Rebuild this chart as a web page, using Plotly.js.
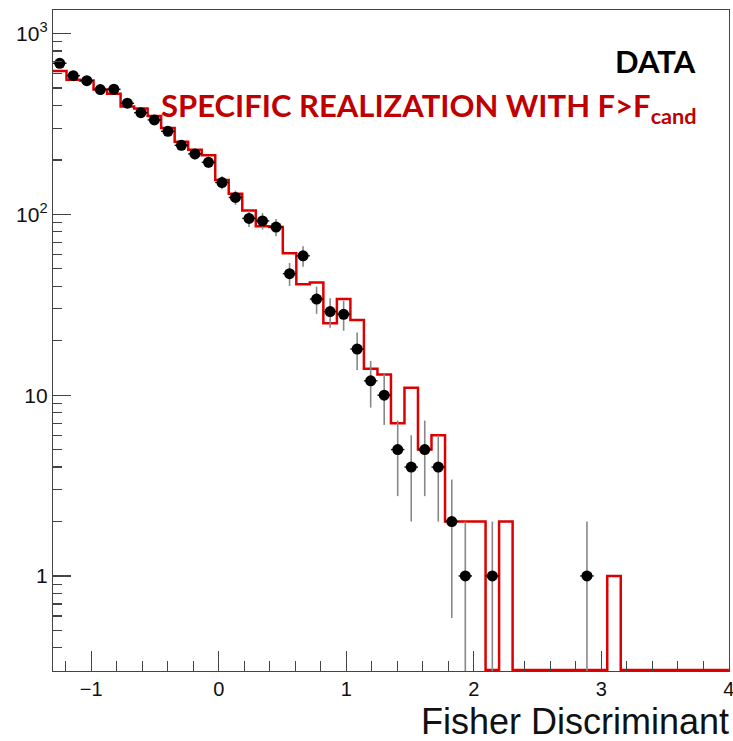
<!DOCTYPE html>
<html>
<head>
<meta charset="utf-8">
<script src="https://cdn.plot.ly/plotly-3.0.1.min.js"></script>
<style>html,body{margin:0;padding:0;background:#fff;}#chart{width:733px;height:741px;}</style>
</head>
<body>
<div id="chart"></div>
<script>
// Histogram binning (Fisher discriminant)
const xMin = -1.3;
const xMax = 4;
const nBins = 50;

// Observed data counts per bin
const dataCounts = [685,585,549,490,492,412,365,333,288,241,
                    216,194,150,124,95,92,85,47,59,34,
                    29,28,18,12,10,5,4,5,4,2,
                    1,0,1,0,0,0,0,0,0,1,
                    0,0,0,0,0,0,0,0,0,0];

// Specific realization with F > F_cand (red histogram)
const realization = [620,555,550,490,465,395,385,350,300,252,
                     228,212,155,130,105,86,85,61,41,42,
                     25,34,26,14,13,7,11,5,6,2,
                     2,2,0,2,0,0,0,0,0,0,
                     0,1,0,0,0,0,0,0,0,0];

// Tick labels
const xTickVals = [-1,0,1,2,3,4];
const xTickText = ['\u22121','0','1','2','3','4'];
const yTickVals = [1,10,100,1000];
const yTickText = ['1','10','10<sup>2</sup>','10<sup>3</sup>'];

const labelData = 'DATA';
const labelReal = 'SPECIFIC REALIZATION WITH F>F<sub>cand</sub>';
const xTitle = 'Fisher Discriminant';

// --- derived geometry ---
const binW = (xMax - xMin) / nBins;
const edges = [];
for (let i = 0; i <= nBins; i++) edges.push(xMin + i * binW);
const centers = edges.slice(0, nBins).map(e => e + binW / 2);

const yLogMin = Math.log10(0.298);
const yLogMax = Math.log10(1350);
const floorVal = Math.pow(10, yLogMin + 0.006);

// red step line
const stepX = edges.slice();
const stepY = realization.map(v => v > 0 ? v : floorVal);
stepY.push(stepY[stepY.length - 1]);

// data points (non-empty bins only)
const px = [], py = [], pe = [];
dataCounts.forEach((v, i) => {
  if (v > 0) { px.push(centers[i]); py.push(v); pe.push(Math.sqrt(v)); }
});

const traces = [
  {
    type: 'scatter', mode: 'lines', x: stepX, y: stepY,
    line: {shape: 'hv', color: '#dc0000', width: 2.5},
    hoverinfo: 'skip', showlegend: false
  },
  {
    type: 'scatter', mode: 'markers', x: px, y: py,
    marker: {color: '#000', size: 11},
    error_y: {type: 'data', array: pe, visible: true, color: '#888', thickness: 1.6, width: 0},
    error_x: {type: 'constant', value: binW / 2, visible: true, color: '#111', thickness: 1.4, width: 0},
    showlegend: false
  }
];

const tickFont = {family: 'Liberation Sans, Arial, sans-serif', size: 20, color: '#111'};

const layout = {
  width: 733, height: 741,
  margin: {l: 53, r: 4, t: 10, b: 70},
  paper_bgcolor: '#fff', plot_bgcolor: '#fff',
  showlegend: false,
  xaxis: {
    range: [xMin, xMax + 0.0008],
    tickmode: 'array', tickvals: xTickVals, ticktext: xTickText,
    ticklabeloverflow: 'allow',
    ticks: 'inside', ticklen: 20, tickwidth: 1.2, tickcolor: '#444',
    minor: {ticks: 'inside', ticklen: 10, tickwidth: 1.2, tickcolor: '#444', tickmode: 'linear', tick0: 0, dtick: 0.2, showgrid: false},
    showgrid: false, zeroline: false,
    showline: true, mirror: true, linecolor: '#444', linewidth: 1.2,
    tickfont: tickFont
  },
  yaxis: {
    type: 'log',
    range: [yLogMin, yLogMax],
    tickmode: 'array', tickvals: yTickVals, ticktext: yTickText,
    ticks: 'inside', ticklen: 18, tickwidth: 1.2, tickcolor: '#444',
    minor: {ticks: 'inside', ticklen: 9, tickwidth: 1.2, tickcolor: '#444', tickmode: 'linear', dtick: 'D1', showgrid: false},
    showgrid: false, zeroline: false,
    showline: true, mirror: true, linecolor: '#444', linewidth: 1.2,
    tickfont: {family: 'Liberation Sans, Arial, sans-serif', size: 21, color: '#111'}
  },
  annotations: [
    {xref: 'paper', yref: 'paper', x: 0.954, y: 0.923, xanchor: 'right', yanchor: 'middle',
     text: labelData, showarrow: false,
     font: {family: 'Lato, sans-serif', size: 31, color: '#000', weight: 'bold'}},
    {xref: 'paper', yref: 'paper', x: 0.956, y: 0.853, xanchor: 'right', yanchor: 'middle',
     text: labelReal, showarrow: false,
     font: {family: 'Lato, sans-serif', size: 31, color: '#c00000', weight: 'bold'}},
    {xref: 'paper', yref: 'paper', x: 1.003, y: -0.076, xanchor: 'right', yanchor: 'middle',
     text: xTitle, showarrow: false,
     font: {family: 'Liberation Sans, Arial, sans-serif', size: 36, color: '#111'}}
  ]
};

Plotly.newPlot('chart', traces, layout, {staticPlot: true, displayModeBar: false});
</script>
</body>
</html>
